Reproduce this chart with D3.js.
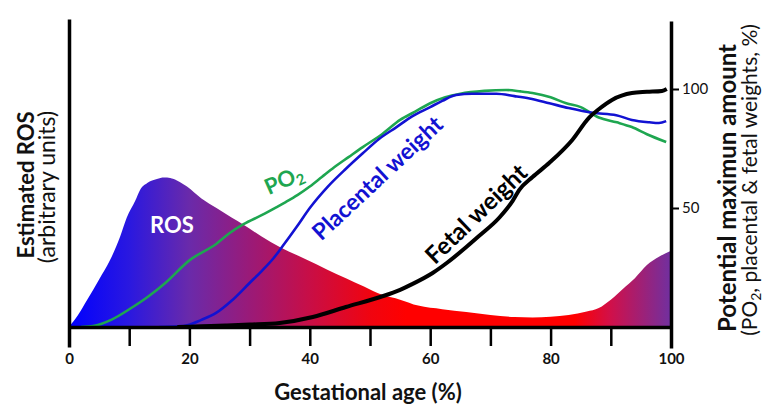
<!DOCTYPE html>
<html>
<head>
<meta charset="utf-8">
<script src="https://cdn.jsdelivr.net/npm/d3@7"></script>
<style>
  body { margin: 0; background: #fff; }
  text { font-family: Lato, "Open Sans", sans-serif; }
</style>
</head>
<body>
<div id="chart"></div>
<script>
// gestational age (%) and values
var rosAge = [0, 1.5, 3, 5, 6.8, 8.5, 9.6, 11, 11.8, 13, 14.6, 15.8, 16.8, 18, 19.6, 22, 24.5, 27, 29, 32, 35, 38, 41, 43, 46, 49, 52, 55, 58, 62, 66, 70, 74, 77, 80, 83, 86, 88, 90, 92, 94, 96, 98, 100];
var rosVal = [0, 5, 11.3, 20, 28, 38, 46, 53, 57.6, 60.5, 62.2, 62.8, 62.6, 61.5, 59, 54, 50, 46, 43, 38, 33.6, 30, 26.5, 24, 20.5, 17, 13.5, 11.5, 9, 7.5, 6.3, 5, 4.2, 4, 4.3, 5, 6.5, 8, 11.5, 16, 20.5, 26, 29.5, 32];

var po2Age = [2, 4, 7, 10.6, 13, 16, 20, 24.5, 26.7, 29, 32, 34.5, 36, 38, 40, 42, 44, 46.5, 48.8, 52, 55, 57.5, 60, 62.5, 65, 69, 72.6, 75, 77, 80, 82.6, 85, 88, 91, 93.5, 96, 99.2];
var po2Val = [0, 0.4, 3, 8.4, 12.5, 18.5, 28, 35, 39.5, 43.2, 47, 50.4, 52.5, 55.5, 59, 63, 67, 71.5, 75.6, 81, 87, 90.5, 94, 96.5, 98, 99.2, 99.6, 99, 98.3, 96.5, 94, 92.4, 88, 86, 84, 81, 77.7];

var placAge = [15, 19, 22, 24.5, 27, 30, 32, 34, 35.5, 37.8, 40, 43, 46, 48.8, 51.5, 54.4, 57, 60, 62, 64.3, 67, 71, 74, 76.5, 79.8, 83, 87, 90.9, 93.5, 96.4, 98, 99.2];
var placVal = [0, 0.4, 3, 6, 11, 18.5, 23.5, 29, 34, 42, 50, 59, 66.5, 73, 79, 84, 88.5, 92.4, 95, 97.5, 98, 98, 97, 96, 94, 92, 90, 89, 87, 86, 85.7, 86.5];

var fetalAge = [18, 22, 26, 30, 35, 40.5, 46, 51.7, 55, 57, 60.4, 62.8, 66, 68, 71.5, 73.7, 74.8, 77, 79.8, 83.6, 86.4, 88, 90.2, 93.5, 96, 98.5, 99.3];
var fetalVal = [0, 0.3, 0.6, 1, 1.7, 4.2, 8.4, 12.6, 15.6, 18, 22.7, 27, 33.6, 38, 46, 53, 57.6, 63, 69, 78.6, 88, 91.5, 95.4, 98.3, 98.8, 99.2, 100];

var xTicks = [0, 10, 20, 30, 40, 50, 60, 70, 80, 90, 100];
var rightTicks = [50, 100];

var W = 767, H = 409;
var svg = d3.select("#chart").append("svg").attr("width", W).attr("height", H);

var x = d3.scaleLinear().domain([0, 100]).range([69, 671]);
var y = d3.scaleLinear().domain([0, 100]).range([327, 89]);

function pts(a, v) { return a.map(function(d, i) { return [d, v[i]]; }); }

// ROS gradient
var grad = svg.append("defs").append("linearGradient").attr("id", "rosGrad")
  .attr("gradientUnits", "userSpaceOnUse")
  .attr("x1", x(0)).attr("x2", x(100)).attr("y1", 0).attr("y2", 0);
[[0, "#0000ff"], [0.1, "#2a18e0"], [0.2, "#6a2aaa"], [0.3, "#9a1a78"], [0.4, "#c80e46"], [0.5, "#f00410"], [0.56, "#ff0000"], [0.84, "#ff0000"], [0.9, "#d0104a"], [1, "#7030a0"]]
  .forEach(function(s) { grad.append("stop").attr("offset", s[0]).attr("stop-color", s[1]); });

var area = d3.area().x(function(d) { return x(d[0]); }).y0(y(0)).y1(function(d) { return y(d[1]); }).curve(d3.curveMonotoneX);
svg.append("path").attr("d", area(pts(rosAge, rosVal))).attr("fill", "url(#rosGrad)");

var line = d3.line().x(function(d) { return x(d[0]); }).y(function(d) { return y(d[1]); }).curve(d3.curveMonotoneX);
svg.append("path").attr("d", line(pts(po2Age, po2Val))).attr("fill", "none").attr("stroke", "#1ea650").attr("stroke-width", 2.6);
svg.append("path").attr("d", line(pts(placAge, placVal))).attr("fill", "none").attr("stroke", "#1212d2").attr("stroke-width", 2.6);
svg.append("path").attr("d", line(pts(fetalAge, fetalVal))).attr("fill", "none").attr("stroke", "#000").attr("stroke-width", 4).attr("stroke-linejoin", "round");

// axes
var gx = svg.append("g").attr("transform", "translate(0," + y(0) + ")")
  .call(d3.axisBottom(x).tickValues(xTicks).tickSize(19).tickSizeOuter(0)
    .tickFormat(function(d) { return d % 20 === 0 ? d : ""; }));
gx.select(".domain").attr("stroke-width", 3.5);
gx.selectAll(".tick line").attr("stroke-width", 2.5);
gx.selectAll(".tick text").attr("y", 26).attr("font-size", 15).attr("font-weight", "bold").attr("fill", "#111")
  .style("font-family", "Lato, sans-serif");

var yl = y.copy().domain([y.invert(347), y.invert(19)]).range([347, 19]);
var gl = svg.append("g").attr("transform", "translate(" + x(0) + ",0)")
  .call(d3.axisLeft(yl).tickValues([]).tickSizeOuter(0));
gl.select(".domain").attr("stroke-width", 3.5);

var yr = y.copy().domain([y.invert(348), y.invert(21)]).range([348, 21]);
var gr = svg.append("g").attr("transform", "translate(" + x(100) + ",0)")
  .call(d3.axisRight(yr).tickValues(rightTicks).tickSize(8).tickSizeOuter(0));
gr.select(".domain").attr("stroke-width", 3.5);
gr.selectAll(".tick line").attr("stroke-width", 2);
gr.selectAll(".tick text").attr("x", 11).attr("font-size", 15).attr("fill", "#111").style("font-family", "Lato, sans-serif");

// curve labels
svg.append("text").attr("x", 172).attr("y", 233).attr("text-anchor", "middle")
  .attr("fill", "#fff").attr("font-size", 22).attr("font-weight", "bold").text("ROS");

var po2 = svg.append("text").attr("transform", "translate(287,187) rotate(-24)").attr("text-anchor", "middle")
  .attr("fill", "#1ea650").attr("font-size", 22).attr("font-weight", "bold");
po2.append("tspan").text("PO");
po2.append("tspan").attr("font-size", 15).attr("dy", 4).text("2");

svg.append("text").attr("transform", "translate(383,184) rotate(-43)").attr("text-anchor", "middle")
  .attr("fill", "#1212d2").attr("font-size", 23).attr("font-weight", "bold").text("Placental weight");

svg.append("text").attr("transform", "translate(482,220) rotate(-44)").attr("text-anchor", "middle")
  .attr("fill", "#000").attr("font-size", 24).attr("font-weight", "bold").text("Fetal weight");

// axis titles
svg.append("text").attr("x", 368).attr("y", 400).attr("text-anchor", "middle")
  .attr("font-size", 22).attr("font-weight", "bold").attr("fill", "#111").text("Gestational age (%)");

svg.append("text").attr("transform", "translate(34,185) rotate(-90)").attr("text-anchor", "middle")
  .attr("font-size", 22).attr("font-weight", "bold").attr("fill", "#111").text("Estimated ROS");
svg.append("text").attr("transform", "translate(55,187) rotate(-90)").attr("text-anchor", "middle")
  .attr("font-size", 23).attr("fill", "#111").text("(arbitrary units)");

svg.append("text").attr("transform", "translate(736,188) rotate(-90)").attr("text-anchor", "middle")
  .attr("font-size", 24).attr("font-weight", "bold").attr("fill", "#111").text("Potential maximun amount");
var rt = svg.append("text").attr("transform", "translate(757,180) rotate(-90)").attr("text-anchor", "middle")
  .attr("font-size", 21).attr("fill", "#111");
rt.append("tspan").text("(PO");
rt.append("tspan").attr("font-size", 14).attr("dy", 4).text("2");
rt.append("tspan").attr("dy", -4).text(", placental & fetal weights, %)");
</script>
</body>
</html>
